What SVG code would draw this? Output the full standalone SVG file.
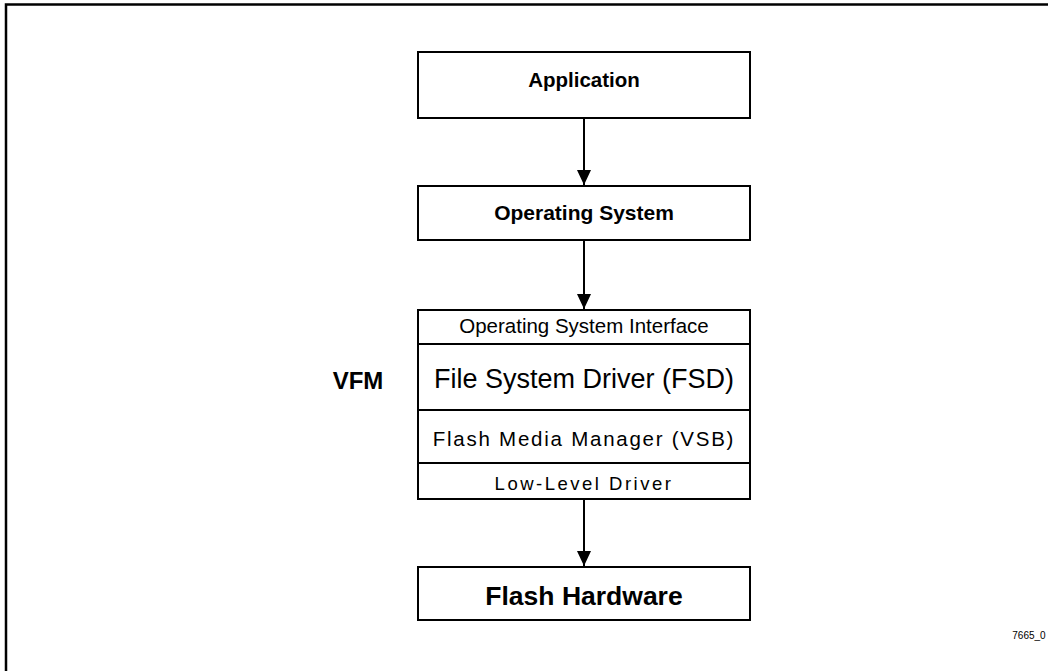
<svg xmlns="http://www.w3.org/2000/svg" width="1048" height="671" viewBox="0 0 1048 671">
  <defs>
    <marker id="arrow" markerWidth="16" markerHeight="14" refX="15" refY="7" orient="auto" markerUnits="userSpaceOnUse">
      <path d="M0,0 L15,7 L0,14 Z" fill="#000"/>
    </marker>
  </defs>
  <style>
    .box { fill: #fff; stroke: #000; stroke-width: 2; }
    .sep { stroke: #000; stroke-width: 2; }
    .wire { stroke: #000; stroke-width: 2; fill: none; }
    text { font-family: "Liberation Sans", Arial, sans-serif; fill: #000; text-anchor: middle; }
    .b { font-weight: bold; }
  </style>
  <rect width="1048" height="671" fill="#fff"/>
  <!-- page frame, runs off the right and bottom edges -->
  <rect x="6" y="4.5" width="1060" height="680" fill="none" stroke="#000" stroke-width="2.5"/>

  <g id="application">
    <rect class="box" x="418" y="52" width="332" height="66"/>
    <text class="b" x="584" y="87" font-size="20.5">Application</text>
  </g>

  <g id="operating-system">
    <rect class="box" x="418" y="186" width="332" height="54"/>
    <text class="b" x="584" y="220" font-size="21">Operating System</text>
  </g>

  <g id="vfm-stack">
    <rect class="box" x="418" y="310" width="332" height="189"/>
    <line class="sep" x1="418" y1="344" x2="750" y2="344"/>
    <line class="sep" x1="418" y1="410" x2="750" y2="410"/>
    <line class="sep" x1="418" y1="463" x2="750" y2="463"/>
    <text x="584" y="333" font-size="20.5">Operating System Interface</text>
    <text x="584" y="388" font-size="27">File System Driver (FSD)</text>
    <text x="584" y="446" font-size="20.5" letter-spacing="1.75">Flash Media Manager (VSB)</text>
    <text x="584" y="490" font-size="18.5" letter-spacing="2.5">Low-Level Driver</text>
  </g>

  <g id="vfm-label">
    <text class="b" x="358" y="389" font-size="24">VFM</text>
  </g>

  <g id="flash-hardware">
    <rect class="box" x="418" y="567" width="332" height="53"/>
    <text class="b" x="584" y="605" font-size="26.5">Flash Hardware</text>
  </g>

  <g id="figure-number">
    <text x="1029" y="639" font-size="10">7665_0</text>
  </g>

  <g id="connectors">
    <line class="wire" x1="584" y1="119" x2="584" y2="185" marker-end="url(#arrow)"/>
    <line class="wire" x1="584" y1="241" x2="584" y2="309" marker-end="url(#arrow)"/>
    <line class="wire" x1="584" y1="500" x2="584" y2="566" marker-end="url(#arrow)"/>
  </g>
</svg>
